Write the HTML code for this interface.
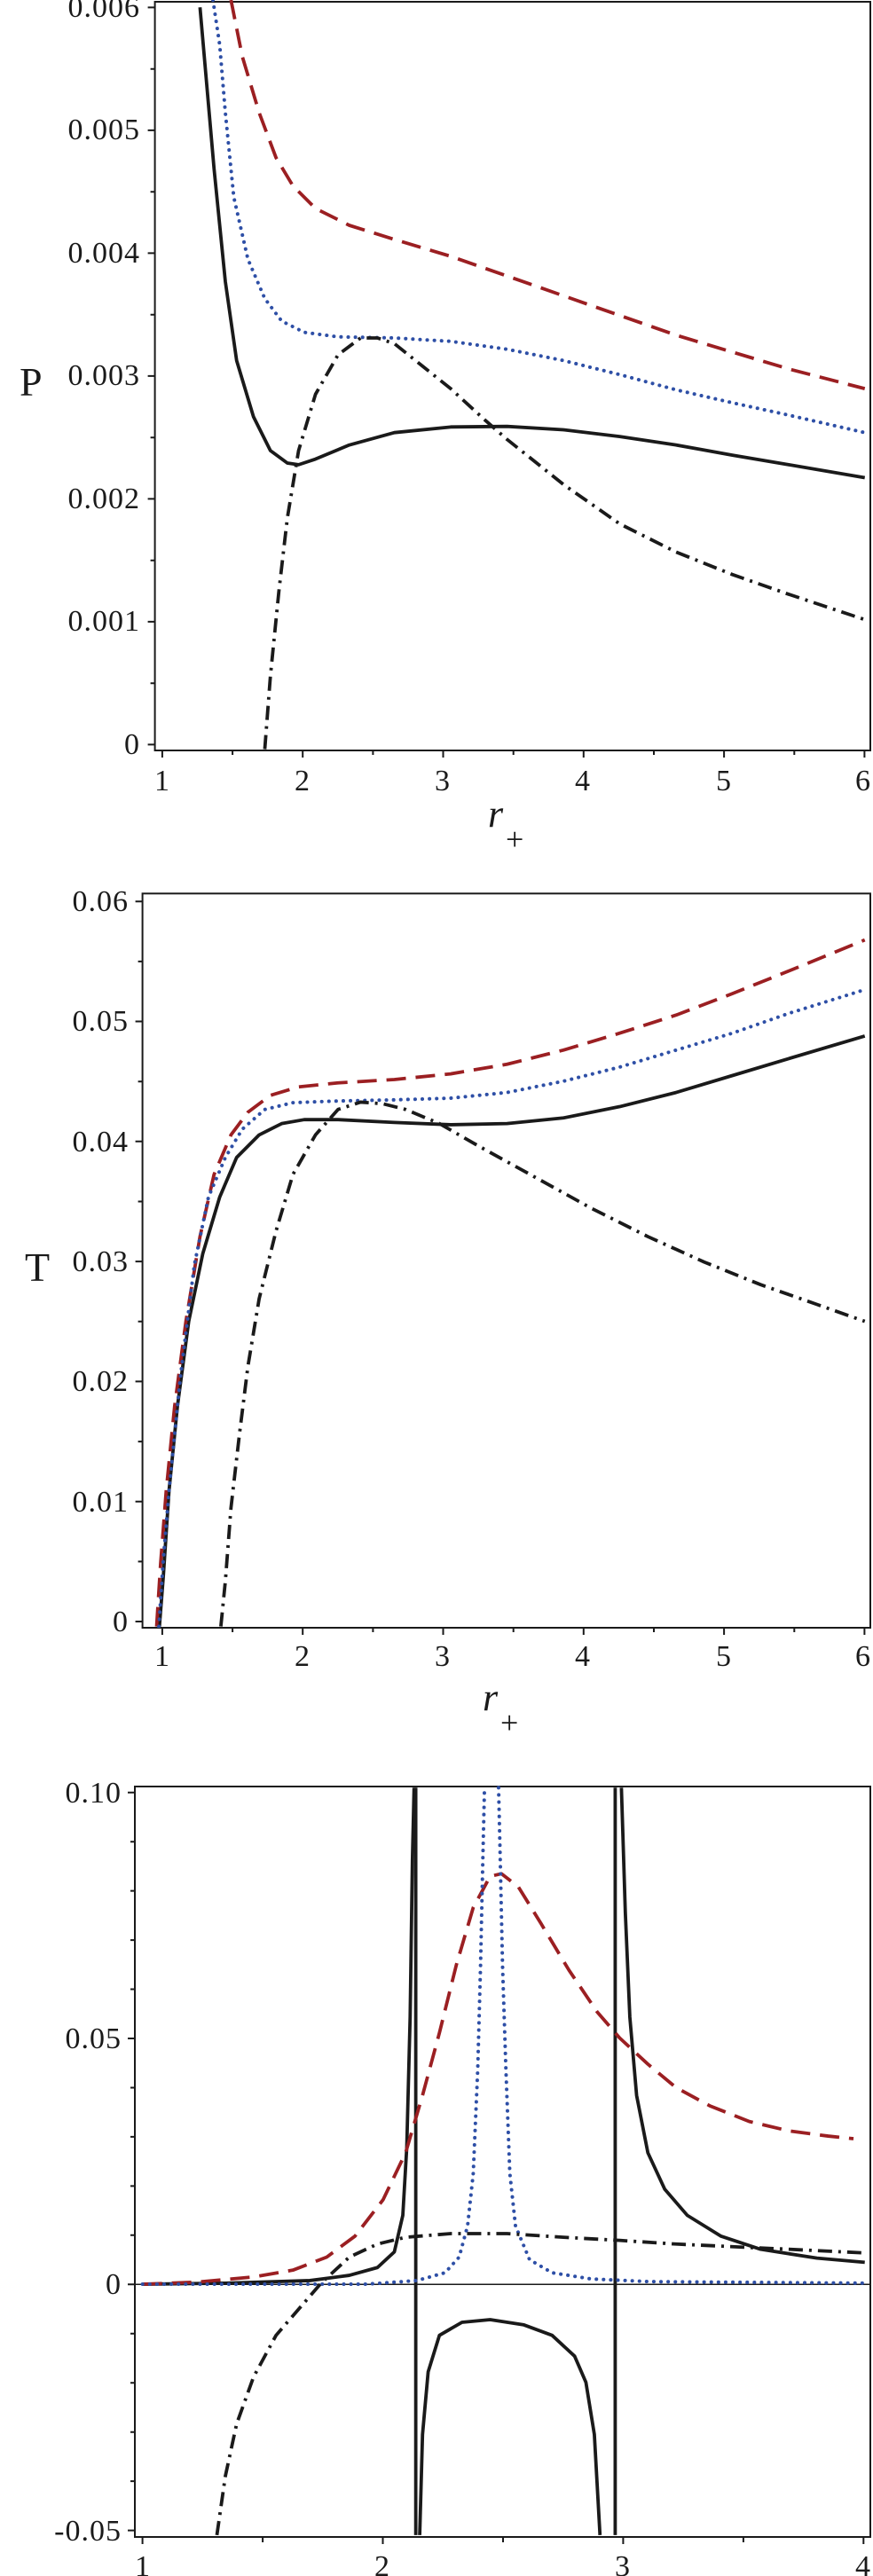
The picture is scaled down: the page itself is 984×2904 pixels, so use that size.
<!DOCTYPE html>
<html><head><meta charset="utf-8"><style>
html,body{margin:0;padding:0;background:#fff;}
svg{display:block;}
text{font-family:"Liberation Serif","DejaVu Serif",serif;fill:#1a1a1a;}
.tl{font-size:34px;letter-spacing:1px;font-family:"Liberation Serif",serif;}
.c{fill:none;stroke-linejoin:round;vector-effect:non-scaling-stroke;}
.s{stroke:#1a1a1a;stroke-width:3.8;}
.r{stroke:#9b1f22;stroke-width:3.8;stroke-dasharray:22 11;}
.b{stroke:#2e4fa6;stroke-width:4;stroke-dasharray:0.1 8;stroke-linecap:round;}
.d{stroke:#1a1a1a;stroke-width:3.8;stroke-dasharray:16 7 3 7;}
.ax{stroke:#1a1a1a;stroke-width:2;fill:none;}
</style></head><body>
<svg width="984" height="2904" viewBox="0 0 984 2904" xmlns="http://www.w3.org/2000/svg" font-family="Liberation Serif, serif">
<!-- PANEL 1 -->
<rect x="174.6" y="2" width="806.4" height="844" class="ax"/>
<g class="ax">
<path d="M174.6 839.4h-8M174.6 770.2h-5M174.6 700.9h-8M174.6 631.7h-5M174.6 562.4h-8M174.6 493.2h-5M174.6 423.9h-8M174.6 354.7h-5M174.6 285.4h-8M174.6 216.2h-5M174.6 146.9h-8M174.6 77.7h-5M174.6 8.4h-8"/>
<path d="M182.9 846v8M262.1 846v5M341.2 846v8M420.4 846v5M499.5 846v8M578.7 846v5M657.8 846v8M737 846v5M816.1 846v8M895.3 846v5M974.4 846v8"/>
</g>
<g class="tl" text-anchor="end" font-family="Liberation Serif, serif">
<text x="158" y="850">0</text><text x="158" y="711">0.001</text><text x="158" y="573">0.002</text><text x="158" y="434">0.003</text><text x="158" y="296">0.004</text><text x="158" y="157">0.005</text><text x="158" y="19">0.006</text>
</g>
<g class="tl" text-anchor="middle" font-family="Liberation Serif, serif">
<text x="183" y="891">1</text><text x="341" y="891">2</text><text x="499" y="891">3</text><text x="657" y="891">4</text><text x="816" y="891">5</text><text x="973" y="891">6</text>
</g>
<text x="22" y="446" font-size="46" font-family="Liberation Serif, serif">P</text>
<text x="550" y="932" font-size="44" font-style="italic" font-family="Liberation Serif, serif">r</text><text x="570" y="958" font-size="36" font-family="Liberation Serif, serif">+</text>
<svg x="0" y="0" width="984" height="846" overflow="hidden">
<g transform="scale(0.635,0.635)">
<path class="c s" d="M355,13 L380,300 L400,500 L420,640 L450,740 L480,800 L510,822 L530,825 L560,815 L620,790 L700,768 L800,758 L900,757 L1000,763 L1100,775 L1200,790 L1300,808 L1400,825 L1535,848"/>
<path class="c r" d="M410,0 L430,100 L460,200 L490,280 L520,330 L560,370 L620,400 L700,425 L800,455 L900,490 L1000,525 L1100,560 L1200,595 L1300,625 L1400,655 L1535,690"/>
<path class="c b" d="M378,0 L390,80 L400,200 L415,350 L440,460 L470,530 L500,570 L540,590 L600,598 L700,600 L800,606 L900,620 L1000,640 L1100,665 L1200,692 L1300,715 L1400,737 L1535,768"/>
<path class="c d" d="M470,1330 L480,1200 L495,1050 L510,920 L530,800 L560,700 L600,630 L640,600 L670,600 L700,610 L750,650 L800,690 L860,745 L900,780 L1000,860 L1100,930 L1200,980 L1300,1020 L1400,1055 L1535,1100"/>
</g></svg>

<!-- PANEL 2 -->
<rect x="160.6" y="1007.3" width="820.4" height="827.7" class="ax"/>
<g class="ax">
<path d="M160.6 1828h-8M160.6 1760.4h-5M160.6 1692.7h-8M160.6 1625.1h-5M160.6 1557.4h-8M160.6 1489.8h-5M160.6 1422.1h-8M160.6 1354.5h-5M160.6 1286.8h-8M160.6 1219.2h-5M160.6 1151.5h-8M160.6 1083.9h-5M160.6 1016.2h-8"/>
<path d="M182.9 1835v8M262.1 1835v5M341.2 1835v8M420.4 1835v5M499.5 1835v8M578.7 1835v5M657.8 1835v8M737 1835v5M816.1 1835v8M895.3 1835v5M974.4 1835v8"/>
</g>
<g class="tl" text-anchor="end" font-family="Liberation Serif, serif">
<text x="145" y="1839">0</text><text x="145" y="1704">0.01</text><text x="145" y="1568">0.02</text><text x="145" y="1433">0.03</text><text x="145" y="1298">0.04</text><text x="145" y="1162">0.05</text><text x="145" y="1027">0.06</text>
</g>
<g class="tl" text-anchor="middle" font-family="Liberation Serif, serif">
<text x="183" y="1878">1</text><text x="341" y="1878">2</text><text x="499" y="1878">3</text><text x="657" y="1878">4</text><text x="816" y="1878">5</text><text x="973" y="1878">6</text>
</g>
<text x="28" y="1444" font-size="46" font-family="Liberation Serif, serif">T</text>
<text x="544" y="1928" font-size="44" font-style="italic" font-family="Liberation Serif, serif">r</text><text x="564" y="1954" font-size="36" font-family="Liberation Serif, serif">+</text>
<svg x="0" y="980" width="984" height="855" overflow="hidden">
<g transform="scale(0.635,0.637)">
<path class="c s" d="M283,1340 L290,1250 L300,1100 L315,950 L335,800 L360,680 L390,580 L420,510 L460,470 L500,450 L540,443 L600,443 L700,448 L800,452 L900,450 L1000,440 L1100,420 L1200,395 L1300,365 L1400,335 L1535,295"/>
<path class="c r" d="M278,1340 L285,1230 L295,1100 L310,950 L330,800 L355,650 L380,540 L410,470 L440,430 L480,400 L530,385 L600,378 L700,372 L800,362 L900,345 L1000,320 L1100,290 L1200,258 L1300,220 L1400,180 L1535,125"/>
<path class="c b" d="M282,1340 L290,1220 L300,1100 L320,900 L345,700 L370,580 L400,510 L430,460 L470,425 L520,413 L600,410 L700,408 L800,405 L900,395 L1000,375 L1100,350 L1200,320 L1300,290 L1400,255 L1535,213"/>
<path class="c d" d="M392,1340 L400,1260 L410,1130 L425,1000 L440,880 L460,760 L490,640 L520,540 L560,470 L600,425 L640,412 L680,415 L720,425 L780,450 L850,490 L950,545 L1050,600 L1150,650 L1250,695 L1350,735 L1450,770 L1535,800"/>
</g></svg>

<!-- PANEL 3 -->
<rect x="152" y="2014" width="829" height="846" class="ax"/>
<line x1="152" y1="2575.3" x2="981" y2="2575.3" stroke="#1a1a1a" stroke-width="1.5"/>
<g class="ax">
<path d="M152 2020.7h-8M152 2076.2h-5M152 2131.6h-5M152 2187.1h-5M152 2242.5h-5M152 2298h-8M152 2353.5h-5M152 2408.9h-5M152 2464.4h-5M152 2519.8h-5M152 2575.3h-8M152 2630.8h-5M152 2686.2h-5M152 2741.7h-5M152 2797.1h-5M152 2852.6h-8"/>
<path d="M160.6 2860v8M296.1 2860v6M431.5 2860v8M567 2860v6M702.4 2860v8M837.9 2860v6M973.3 2860v8"/>
</g>
<g class="tl" text-anchor="end" font-family="Liberation Serif, serif">
<text x="137" y="2032">0.10</text><text x="137" y="2309">0.05</text><text x="137" y="2586">0</text><text x="137" y="2864">-0.05</text>
</g>
<g class="tl" text-anchor="middle" font-family="Liberation Serif, serif">
<text x="161" y="2904">1</text><text x="431" y="2904">2</text><text x="702" y="2904">3</text><text x="973" y="2904">4</text>
</g>
<svg x="0" y="1980" width="984" height="880" overflow="hidden">
<g transform="scale(0.635,0.588)">
<path class="c s" d="M253,1012 L400,1010 L550,1005 L620,995 L670,980 L700,950 L715,880 L722,750 L728,500 L732,200 L735,60"/>
<path class="c s" d="M738,60 L738,1493"/>
<path class="c s" d="M745,1493 L750,1300 L760,1180 L780,1110 L820,1085 L870,1080 L930,1090 L980,1110 L1020,1150 L1040,1200 L1055,1300 L1065,1493"/>
<path class="c s" d="M1092,60 L1092,1493"/>
<path class="c s" d="M1103,60 L1110,300 L1118,500 L1130,650 L1150,760 L1180,830 L1220,880 L1280,920 L1350,945 L1450,962 L1535,970"/>
<path class="c r" d="M253,1012 L350,1008 L450,998 L520,985 L580,960 L630,920 L680,850 L720,760 L750,650 L780,530 L810,400 L840,290 L870,230 L890,225 L920,250 L960,320 L1010,410 L1060,490 L1100,540 L1150,590 L1200,635 L1260,670 L1330,700 L1400,718 L1470,728 L1515,733"/>
<path class="c b" d="M253,1012 L650,1012 L740,1005 L790,990 L815,960 L830,900 L840,800 L848,600 L853,400 L857,200 L860,60"/>
<path class="c b" d="M885,60 L888,200 L892,400 L898,600 L905,800 L915,900 L940,965 L980,990 L1050,1002 L1150,1007 L1535,1010"/>
<path class="c d" d="M385,1493 L400,1380 L420,1280 L450,1190 L490,1110 L530,1060 L570,1010 L620,960 L670,935 L720,922 L800,915 L900,915 L1000,922 L1100,928 L1200,935 L1300,940 L1400,945 L1535,952"/>
</g></svg>
</svg>
</body></html>
